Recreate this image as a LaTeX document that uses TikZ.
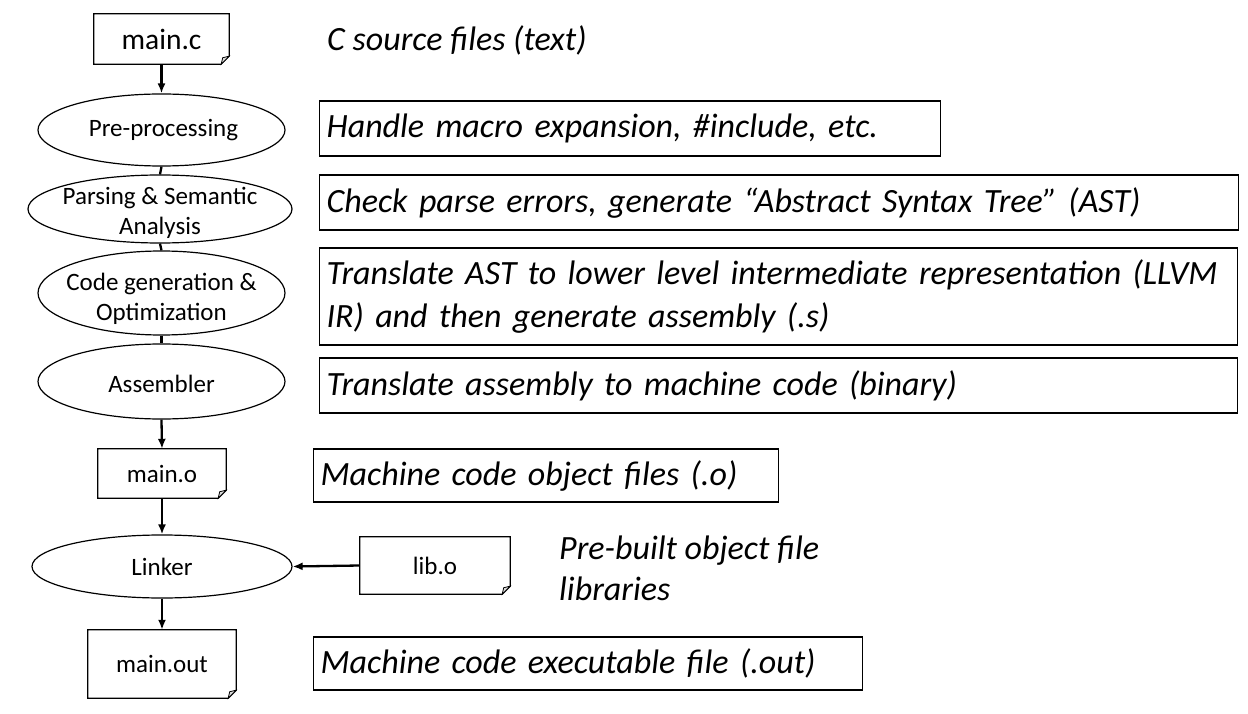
\documentclass[tikz,border=0pt]{standalone}
\usepackage{fontspec}
\setmainfont{Carlito}
\usetikzlibrary{arrows.meta,shapes.geometric,calc}
\begin{document}
\begin{tikzpicture}[x=1pt,y=-1pt,
  ell/.style={draw,ellipse,line width=1.2pt,inner sep=0pt},
  elltext/.style={align=center,font=\fontsize{25}{30}\selectfont,inner sep=0pt},
  docnode/.style={inner sep=0pt,font=\fontsize{25}{30}\selectfont},
  desc/.style={draw,line width=1.2pt,anchor=west,inner xsep=7pt,inner ysep=0pt,align=left,font=\fontsize{34}{43}\selectfont\itshape},
  freetext/.style={anchor=west,inner sep=0pt,align=left,font=\fontsize{34}{41}\selectfont\itshape},
  arr/.style={line width=2.3pt,-{Latex[length=10pt,width=8pt]}},
  conn/.style={line width=2.3pt}]
\useasboundingbox (0,0) rectangle (1248,714);

% flow nodes
\node[docnode,minimum width=135pt,minimum height=50pt,font=\fontsize{29.5}{34}\selectfont] (mainc) at (161.5,39) {main.c};
\node[ell,minimum width=247pt,minimum height=72pt,label={[elltext,xshift=2pt]center:Pre-processing}] (pre) at (161.5,130) {};
\node[ell,minimum width=264pt,minimum height=68pt,label={[elltext,yshift=-4pt]center:Parsing \& Semantic\\Analysis}] (parse) at (160,209) {};
\node[ell,minimum width=247pt,minimum height=84pt,label={[elltext,yshift=-6pt]center:Code generation \&\\Optimization}] (code) at (161.5,293) {};
\node[ell,minimum width=247pt,minimum height=75pt,label={[elltext,yshift=-2pt]center:Assembler}] (asm) at (161.5,381.5) {};
\node[docnode,minimum width=128pt,minimum height=49pt] (maino) at (162,473.5) {main.o};
\node[ell,minimum width=260pt,minimum height=63pt,label={[elltext]center:Linker}] (linker) at (162,566.5) {};
\node[docnode,minimum width=150pt,minimum height=57pt] (libo) at (435,565.5) {lib.o};
\node[docnode,minimum width=148pt,minimum height=68pt] (mainout) at (162,664) {main.out};

% document outlines with folded corner
\foreach \n in {mainc,maino,libo,mainout} {
  \draw[line width=1.2pt] (\n.north west) -- (\n.north east) -- ([yshift=8pt]\n.south east) -- ([xshift=-8pt]\n.south east) -- (\n.south west) -- cycle;
  \filldraw[fill=gray!30,line width=0.8pt] ([yshift=8pt]\n.south east) -- ([xshift=-8pt]\n.south east) -- ([xshift=-6.5pt,yshift=6.5pt]\n.south east) -- cycle;
}

% connectors
\draw[arr] (mainc.south) -- (pre.north);
\draw[conn] (pre.south) -- (parse.north);
\draw[conn] (parse.south) -- (code.north);
\draw[conn] (code.south) -- (asm.north);
\draw[arr] (asm.south) -- (maino.north);
\draw[arr] (maino.south) -- (linker.north);
\draw[arr] (linker.south) -- (mainout.north);
\draw[arr] (libo.west) -- (linker.east);

% descriptions
\node[freetext] (t0) at (327,40) {C source files (text)};
\node[desc,minimum width=621pt,minimum height=55pt,text width=607pt] (d1) at (319,128.5) {Handle macro expansion, \#include, etc.};
\node[desc,minimum width=919pt,minimum height=55pt,text width=905pt] (d2) at (319,202.5) {Check parse errors, generate “Abstract Syntax Tree” (AST)};
\node[desc,minimum width=918pt,minimum height=97pt,text width=904pt] (d3) at (319,296.5) {Translate AST to lower level intermediate representation (LLVM\\IR) and then generate assembly (.s)};
\node[desc,minimum width=918pt,minimum height=55pt,text width=904pt] (d4) at (319,385.5) {Translate assembly to machine code (binary)};
\node[desc,minimum width=465pt,minimum height=53pt,text width=451pt] (d5) at (313,475.5) {Machine code object files (.o)};
\node[freetext] (t1) at (559,568.5) {Pre-built object file\\libraries};
\node[desc,minimum width=549pt,minimum height=53pt,text width=535pt] (d6) at (313,663.5) {Machine code executable file (.out)};
\end{tikzpicture}
\end{document}
